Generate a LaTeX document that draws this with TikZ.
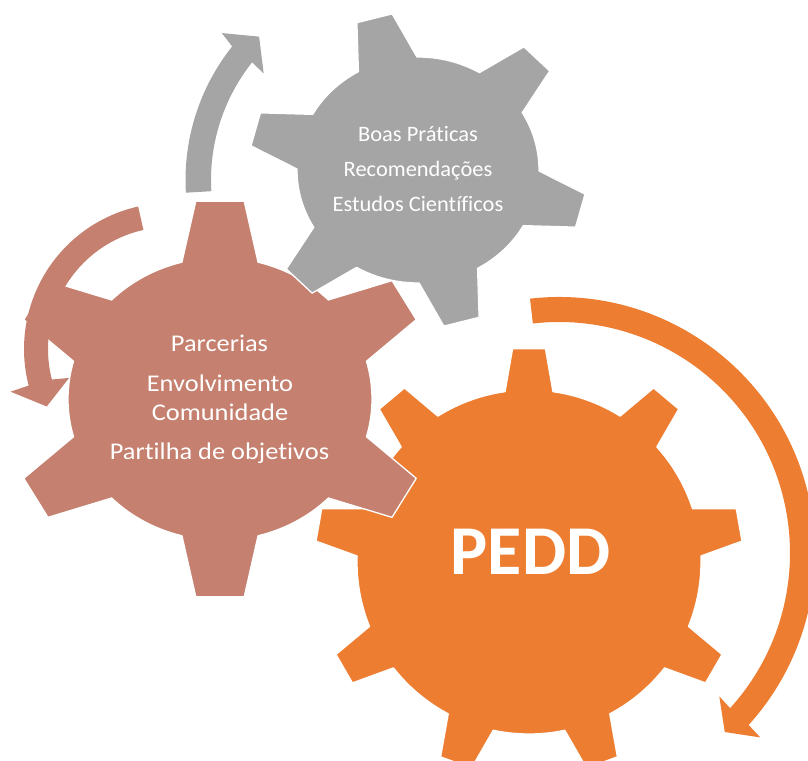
\documentclass[tikz,border=0pt]{standalone}
\usepackage{fontspec}
\setmainfont{Carlito}[Ligatures=NoCommon]
\definecolor{cOrange}{HTML}{ED7D31}
\definecolor{cRed}{HTML}{C5806F}
\definecolor{cGray}{HTML}{A5A5A5}
\begin{document}
\begin{tikzpicture}[x=1pt,y=1pt,
  gearshape/.style={line width=1.3pt, draw=white, line join=round},
  arrowshape/.style={draw=none},
  graytext/.style={text=white, font=\fontsize{22}{26}\selectfont, anchor=base, inner sep=0pt, xscale=1.02, transform shape},
  redtext/.style={text=white, font=\fontsize{24}{29}\selectfont, anchor=base, inner sep=0pt, xscale=1.1, transform shape},
  bigtext/.style={text=white, font=\fontsize{70}{80}\selectfont\bfseries, anchor=base, inner sep=0pt}]
\useasboundingbox (0,0) rectangle (808,760);
\clip (0,0) rectangle (808,760);

% ---------- orange gear (9 teeth) ----------
\begin{scope}[shift={(529,198)}]
  \filldraw[gearshape, fill=cOrange] (82:172)
    \foreach \a in {90,130,...,410} {
      -- ({\a-4.4}:214) -- ({\a+4.4}:214) -- ({\a+8}:172)
      arc[start angle=\a+8, end angle=\a+32, radius=172]
    } -- cycle;
\end{scope}

% orange arrow
\begin{scope}[shift={(559,207)}]
  \fill[arrowshape, cOrange] (96.5:256)
    arc[start angle=96.5, end angle=-42.2, radius=256]
    -- (-42.5:273) -- (-47.2:244) -- (-41.8:215) -- (-42.2:231)
    arc[start angle=-42.2, end angle=96.5, radius=231] -- cycle;
\end{scope}

% ---------- red gear (6 teeth) ----------
\begin{scope}[shift={(220,361)}]
  \filldraw[gearshape, fill=cRed] (75.5:152 and 141.3)
    \foreach \a in {90,150,...,390} {
      -- ({\a-6.5}:214 and 199) -- ({\a+6.5}:214 and 199) -- ({\a+14.5}:152 and 141.3)
      arc[start angle=\a+14.5, end angle=\a+45.5, x radius=152, y radius=141.3]
    } -- cycle;
\end{scope}

% red arrow
\begin{scope}[shift={(170,411)}]
  \fill[arrowshape, cRed] (102.6:146)
    arc[start angle=102.6, end angle=194.5, radius=146]
    -- (195:165) -- (205:136) -- (196:105) -- (194.5:122)
    arc[start angle=194.5, end angle=102.6, radius=122] -- cycle;
\end{scope}

% ---------- gray gear (6 teeth) ----------
\begin{scope}[shift={(418,590)}]
  \filldraw[gearshape, fill=cGray] (90.5:121 and 113)
    \foreach \a in {105,165,...,405} {
      -- ({\a-6.2}:169 and 158) -- ({\a+6.2}:169 and 158) -- ({\a+14.5}:121 and 113)
      arc[start angle=\a+14.5, end angle=\a+45.5, x radius=121, y radius=113]
    } -- cycle;
\end{scope}

% gray arrow
\begin{scope}[shift={(400,580)}]
  \fill[arrowshape, cGray] (183.4:214.5)
    arc[start angle=183.4, end angle=141.5, radius=214.5]
    -- (140.5:231) -- (134.5:201) -- (142:173) -- (141.5:189)
    arc[start angle=141.5, end angle=183.4, radius=189] -- cycle;
\end{scope}

% ---------- texts ----------
\node[graytext] (g1) at (418,618.3) {Boas Práticas};
\node[graytext] (g2) at (418,583.3) {Recomendações};
\node[graytext] (g3) at (418,548.3) {Estudos Científicos};

\node[redtext] (r1) at (219.5,408.3) {Parcerias};
\node[redtext] (r2) at (220,368.3) {Envolvimento};
\node[redtext] (r3) at (220,339) {Comunidade};
\node[redtext] (r4) at (219.5,300) {Partilha de objetivos};

\node[bigtext] (pedd) at (530.5,185) {PEDD};
\end{tikzpicture}
\end{document}
